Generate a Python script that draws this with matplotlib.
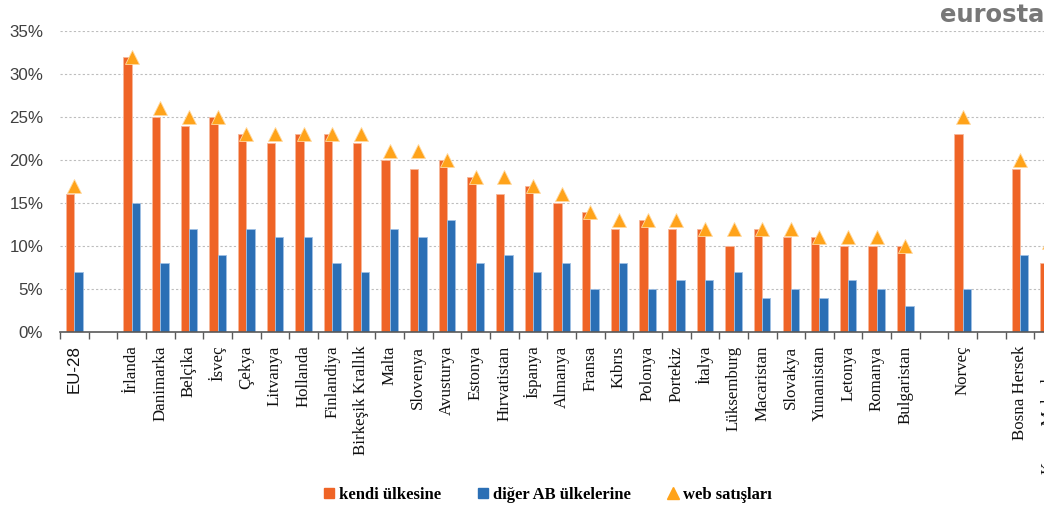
import numpy as np
import matplotlib
matplotlib.use("Agg")
import matplotlib.pyplot as plt
from matplotlib.lines import Line2D

countries = ["EU-28", "", "İrlanda", "Danimarka", "Belçika", "İsveç", "Çekya", "Litvanya",
             "Hollanda", "Finlandiya", "Birkeşik Krallık", "Malta", "Slovenya", "Avusturya",
             "Estonya", "Hırvatistan", "İspanya", "Almanya", "Fransa", "Kıbrıs", "Polonya",
             "Portekiz", "İtalya", "Lüksemburg", "Macaristan", "Slovakya", "Yunanistan",
             "Letonya", "Romanya", "Bulgaristan", "", "Norveç", "", "Bosna Hersek",
             "Kuzey Makedonya"]
own_country = [16, np.nan, 32, 25, 24, 25, 23, 22, 23, 23, 22, 20, 19, 20, 18, 16, 17, 15, 14,
               12, 13, 12, 12, 10, 12, 11, 11, 10, 10, 10, np.nan, 23, np.nan, 19, 8]
other_eu = [7, np.nan, 15, 8, 12, 9, 12, 11, 11, 8, 7, 12, 11, 13, 8, 9, 7, 8, 5,
            8, 5, 6, 6, 7, 4, 5, 4, 6, 5, 3, np.nan, 5, np.nan, 9, 2]
web_sales = [17, np.nan, 32, 26, 25, 25, 23, 23, 23, 23, 23, 21, 21, 20, 18, 18, 17, 16, 14,
             13, 13, 13, 12, 12, 12, 12, 11, 11, 11, 10, np.nan, 25, np.nan, 20, 10.5]
y_ticks = [0, 5, 10, 15, 20, 25, 30, 35]

ORANGE = "#EF6426"
BLUE = "#2B6FB5"
TRI = "#FFA31A"

W, H = 1044, 513
fig = plt.figure(figsize=(W / 100, H / 100), dpi=100)
ax = fig.add_axes([60 / W, 1 - 332 / H, (W - 60) / W, (332 - 31) / H])

x = np.arange(len(countries))
bw = 0.29
ax.bar(x - bw / 2, own_country, width=bw, color=ORANGE, edgecolor="#f7b89a", linewidth=0.6, zorder=3)
ax.bar(x + bw / 2, other_eu, width=bw, color=BLUE, edgecolor="#9fc0e4", linewidth=0.6, zorder=3)
ax.plot(x, web_sales, linestyle="none", marker="^", markersize=10, color=TRI,
        markeredgecolor="#ffd9a0", markeredgewidth=0.6, zorder=4, clip_on=False)

ax.set_yticks(y_ticks)
ax.set_yticklabels([f"{v}%" for v in y_ticks], fontsize=12.2, color="#404040",
                   fontfamily="Liberation Sans")
ax.tick_params(axis="y", length=0, pad=12)
for v in y_ticks[1:]:
    ax.axhline(v, color="#bdbdbd", linewidth=0.8, linestyle=(0, (2, 2)), zorder=1)

for s in ["top", "right", "left"]:
    ax.spines[s].set_visible(False)
ax.spines["bottom"].set_color("#595959")
ax.spines["bottom"].set_linewidth(1.2)
ax.spines["bottom"].set_zorder(5)

ax.set_xticks([])
ax.set_xticks(np.arange(len(countries) + 1) - 0.5, minor=True)
ax.tick_params(axis="x", which="minor", length=5, width=1.0, color="#595959", direction="out")
ax.set_ylim(0, 35)
ax.set_xlim(-0.5, -0.5 + (W - 60) / 28.66)

trans = ax.get_xaxis_transform()
for i, name in enumerate(countries):
    if not name:
        continue
    fam = "Liberation Sans" if name == "EU-28" else "Liberation Serif"
    ax.text(i, -0.045, name, rotation=90, ha="center", va="top", fontsize=12.2,
            fontfamily=fam, color="#111111", transform=trans, clip_on=False)

handles = [Line2D([], [], linestyle="none", marker="s", markersize=7, color=ORANGE),
           Line2D([], [], linestyle="none", marker="s", markersize=7, color=BLUE),
           Line2D([], [], linestyle="none", marker="^", markersize=9, color=TRI)]
labels = ["kendi ülkesine", "diğer AB ülkelerine", "web satışları"]
fig.legend(handles, labels, loc="center", bbox_to_anchor=(548 / W, 1 - 495 / H), ncol=3,
           frameon=False, handlelength=0.6, handletextpad=0.3, columnspacing=2.2,
           prop={"family": "Liberation Serif", "weight": "bold", "size": 12})

fig.text(940 / W, 1 - 22 / H, "eurostat", fontsize=17.5, fontweight="bold", color="#777777",
         fontfamily="DejaVu Sans", ha="left", va="baseline")

fig.savefig("out.png", dpi=100)
